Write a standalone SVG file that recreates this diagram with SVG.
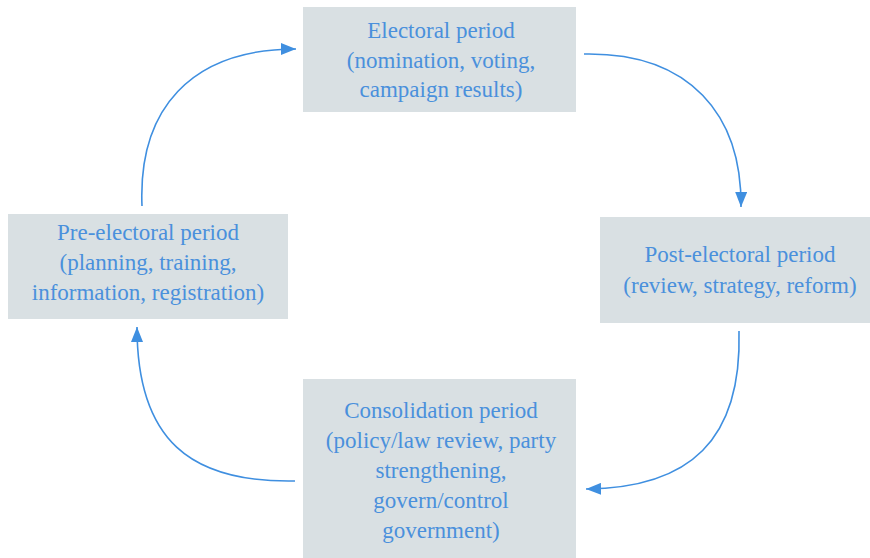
<svg xmlns="http://www.w3.org/2000/svg" width="870" height="558" viewBox="0 0 870 558">
<defs>
<style>
.box{fill:#d9e0e3;}
.lbl{font-family:"Liberation Serif","DejaVu Serif",serif;font-size:23px;fill:#4a90dc;text-anchor:middle;}
.con{fill:none;stroke:#3f8fe0;stroke-width:1.6;}
</style>
<marker id="ah" viewBox="0 0 15 12" refX="15" refY="6" markerWidth="15" markerHeight="12" markerUnits="userSpaceOnUse" orient="auto">
<path d="M0,0 L15,6 L0,12 z" fill="#3f8fe0"/>
</marker>
</defs>
<rect width="870" height="558" fill="#ffffff"/>
<g id="connectors">
<path class="con" d="M584,54 C690,52 742,115 741,207" marker-end="url(#ah)"/>
<path class="con" d="M739,331 C742,440 690,488 586,489" marker-end="url(#ah)"/>
<path class="con" d="M295,481 C190,483 137,440 137,327" marker-end="url(#ah)"/>
<path class="con" d="M142,206 C138,110 190,49 296,49" marker-end="url(#ah)"/>
</g>
<g id="electoral">
<rect class="box" x="303" y="7" width="273" height="105"/>
<text class="lbl" x="441" y="38">Electoral period</text>
<text class="lbl" x="441" y="68">(nomination, voting,</text>
<text class="lbl" x="441" y="97">campaign results)</text>
</g>
<g id="post-electoral">
<rect class="box" x="600" y="217" width="270" height="106"/>
<text class="lbl" x="740" y="262">Post-electoral period</text>
<text class="lbl" x="740" y="293">(review, strategy, reform)</text>
</g>
<g id="consolidation">
<rect class="box" x="303" y="379" width="273" height="179"/>
<text class="lbl" x="441" y="418">Consolidation period</text>
<text class="lbl" x="441" y="448">(policy/law review, party</text>
<text class="lbl" x="441" y="478">strengthening,</text>
<text class="lbl" x="441" y="508">govern/control</text>
<text class="lbl" x="441" y="538">government)</text>
</g>
<g id="pre-electoral">
<rect class="box" x="8" y="214" width="280" height="105"/>
<text class="lbl" x="148" y="240">Pre-electoral period</text>
<text class="lbl" x="148" y="270">(planning, training,</text>
<text class="lbl" x="148" y="300">information, registration)</text>
</g>
</svg>
